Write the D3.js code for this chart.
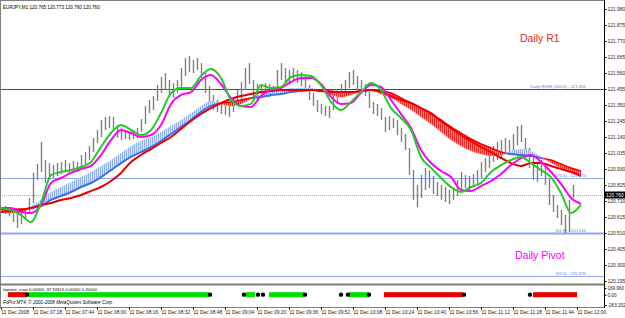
<!DOCTYPE html>
<html>
<head>
<meta charset="utf-8">
<script src="https://cdn.jsdelivr.net/npm/d3@7"></script>
<style>
  body { margin: 0; background: #fff; }
  text { font-family: "Liberation Sans", Arial, sans-serif; }
</style>
</head>
<body>
<script>
// EURJPY M1, 11 Dec 2008, minutes counted from 07:12
const priceTicks = [121.980,121.875,121.770,121.665,121.560,121.455,121.350,121.245,121.140,121.035,120.930,120.825,120.720,120.615,120.510,120.405,120.300,120.195];
const timeTicks = [0,16,32,48,64,80,96,112,128,144,160,176,192,208,224,240,256,272,288];
const timeLabels = ["11 Dec 2008","11 Dec 07:28","11 Dec 07:44","11 Dec 08:00","11 Dec 08:16","11 Dec 08:32","11 Dec 08:48","11 Dec 09:04","11 Dec 09:20","11 Dec 09:36","11 Dec 09:52","11 Dec 10:08","11 Dec 10:24","11 Dec 10:40","11 Dec 10:56","11 Dec 11:12","11 Dec 11:28","11 Dec 11:44","11 Dec 12:00"];

// bars, one every 2 minutes
const barHigh = [120.681,120.687,120.674,120.661,120.635,120.641,120.674,120.740,120.904,120.963,
  121.107,120.989,120.969,120.956,120.969,120.976,120.989,120.969,120.982,120.976,
  121.022,121.041,121.081,121.133,121.186,121.252,121.271,121.278,121.271,121.219,
  121.199,121.179,121.173,121.186,121.199,121.258,121.343,121.383,121.409,121.481,
  121.534,121.560,121.514,121.494,121.514,121.593,121.658,121.672,121.645,121.658,
  121.626,121.566,121.475,121.416,121.383,121.370,121.363,121.357,121.396,121.448,
  121.501,121.593,121.626,121.514,121.488,121.481,121.494,121.488,121.475,121.580,
  121.626,121.593,121.580,121.593,121.580,121.566,121.540,121.481,121.429,121.383,
  121.357,121.343,121.343,121.409,121.448,121.488,121.514,121.566,121.580,121.540,
  121.514,121.488,121.435,121.370,121.357,121.330,121.271,121.278,121.265,121.252,
  121.199,121.160,121.068,120.923,120.825,120.891,120.937,120.923,120.884,120.845,
  120.825,120.812,120.792,120.805,120.858,120.910,120.891,120.884,120.897,120.923,
  120.976,121.002,121.055,121.081,121.107,121.120,121.133,121.120,121.160,121.212,
  121.219,121.133,121.068,121.002,120.976,120.989,120.956,120.871,120.759,120.694,
  120.661,120.628,120.727,120.825];
const barLow = [120.641,120.635,120.622,120.582,120.543,120.569,120.602,120.648,120.707,120.858,
  120.910,120.838,120.858,120.871,120.884,120.897,120.910,120.904,120.910,120.910,
  120.937,120.963,120.989,121.041,121.101,121.140,121.186,121.199,121.179,121.133,
  121.120,121.127,121.120,121.127,121.133,121.173,121.225,121.297,121.317,121.376,
  121.429,121.448,121.409,121.396,121.429,121.468,121.540,121.566,121.560,121.580,
  121.527,121.429,121.350,121.317,121.304,121.291,121.284,121.271,121.304,121.350,
  121.383,121.448,121.488,121.383,121.383,121.409,121.416,121.402,121.409,121.462,
  121.514,121.501,121.501,121.514,121.494,121.475,121.435,121.383,121.343,121.304,
  121.291,121.278,121.265,121.317,121.357,121.402,121.416,121.462,121.481,121.448,
  121.435,121.409,121.330,121.291,121.278,121.252,121.173,121.186,121.199,121.153,
  121.107,121.055,120.891,120.727,120.681,120.740,120.792,120.805,120.766,120.753,
  120.727,120.713,120.700,120.727,120.753,120.792,120.805,120.792,120.818,120.832,
  120.871,120.910,120.937,120.976,120.989,121.002,121.041,121.022,121.055,121.087,
  121.107,120.989,120.937,120.858,120.845,120.884,120.825,120.694,120.648,120.608,
  120.562,120.510,120.517,120.740];

// moving averages, one value every 5 minutes
const maGreen = [120.674,120.661,120.628,120.582,120.707,120.890,120.910,120.923,120.943,120.976,
  121.075,121.166,121.219,121.186,121.153,121.186,121.297,121.428,121.461,121.461,
  121.541,121.586,121.527,121.383,121.344,121.357,121.481,121.461,121.468,121.534,
  121.547,121.541,121.481,121.370,121.317,121.370,121.435,121.494,121.448,121.330,
  121.265,121.186,121.009,120.937,120.871,120.812,120.779,120.812,120.838,120.910,
  120.956,120.989,121.009,120.969,120.923,120.877,120.772,120.641,120.694];
const maMagenta = [120.674,120.674,120.648,120.641,120.694,120.838,120.871,120.904,120.930,120.950,
  121.022,121.120,121.186,121.166,121.140,121.153,121.219,121.357,121.416,121.435,
  121.514,121.547,121.488,121.396,121.344,121.337,121.409,121.448,121.461,121.501,
  121.527,121.527,121.488,121.402,121.357,121.363,121.429,121.481,121.468,121.383,
  121.291,121.199,121.055,120.969,120.917,120.877,120.792,120.786,120.818,120.851,
  120.897,120.956,121.002,121.022,120.976,120.910,120.832,120.740,120.700];
const maRed = [120.648,120.654,120.661,120.674,120.694,120.707,120.727,120.740,120.759,120.786,
  120.812,120.851,120.904,120.976,121.022,121.061,121.101,121.140,121.192,121.245,
  121.291,121.330,121.363,121.389,121.409,121.422,121.435,121.442,121.448,121.448,
  121.448,121.448,121.442,121.435,121.435,121.435,121.442,121.448,121.435,121.409,
  121.383,121.363,121.330,121.297,121.245,121.199,121.153,121.113,121.074,121.041,
  121.002,120.969,120.950,120.969,120.969,120.950,120.930,120.910,120.884];
const ribbonFast = [120.648,120.641,120.641,120.687,120.727,120.779,120.812,120.845,120.877,120.910,
  120.950,120.989,121.035,121.081,121.114,121.140,121.173,121.212,121.252,121.297,
  121.344,121.376,121.357,121.344,121.357,121.389,121.422,121.435,121.448,121.461,
  121.461,121.461,121.442,121.416,121.402,121.416,121.435,121.442,121.422,121.396,
  121.357,121.317,121.271,121.225,121.173,121.120,121.081,121.048,121.028,121.015,
  121.022,121.048,121.061,121.048,121.009,120.969,120.937,120.910,120.884];
const ribbonSlow = [120.667,120.667,120.667,120.674,120.687,120.727,120.753,120.779,120.812,120.838,
  120.877,120.923,120.969,121.009,121.041,121.074,121.114,121.160,121.206,121.252,
  121.304,121.344,121.363,121.370,121.383,121.396,121.402,121.416,121.422,121.435,
  121.442,121.448,121.448,121.442,121.435,121.435,121.442,121.448,121.442,121.429,
  121.396,121.363,121.330,121.291,121.252,121.206,121.166,121.127,121.094,121.068,
  121.041,121.028,121.022,121.015,121.002,120.989,120.963,120.937,120.917];

const levelPrices = [121.455, 120.874, 120.510, 120.225];
const levelLabels = ["Daily HIGH (100.0) - 121.455", "(76.4) - 120.874", "(61.8) - 120.510", "(50.0) - 120.225"];
const bidPrice = 120.760;

// fxprime_vsae signal panel
const sigStart = [3.5, 13.5, 122.5, 134, 174, 191.5, 266];
const sigEnd   = [13, 104, 127, 151.5, 184, 231, 288];
const sigColor = ["red", "green", "green", "green", "green", "red", "red"];
const sigDots  = [13, 104.5, 121.5, 128.5, 131, 152, 170, 173.5, 184, 231.5, 264.5];
const indTicks = [169.960, 0, -263.152];
const indTickLabels = ["169.960", "0.00", "-263.152"];

const W = 625, H = 318;
const svg = d3.select("body").append("svg").attr("width", W).attr("height", H);

const x = d3.scaleLinear().domain([0, 301.5]).range([1, 604]);
const y = d3.scaleLinear().domain([121.980, 120.195]).range([9, 281]);
const yi = d3.scaleLinear().domain([169.960, -263.152]).range([288, 305]);

const defs = svg.append("defs");
function hatch(id, c1, c2) {
  const p = defs.append("pattern").attr("id", id).attr("patternUnits", "userSpaceOnUse")
    .attr("width", 2).attr("height", 2);
  p.append("rect").attr("width", 1).attr("height", 2).attr("fill", c1);
  p.append("rect").attr("x", 1).attr("width", 1).attr("height", 2).attr("fill", c2);
}
hatch("hBlue", "#8fb0f4", "#dfe8fb");
hatch("hRed", "#ff2020", "#ff9a9a");
defs.append("clipPath").attr("id", "plot").append("rect")
  .attr("x", 1).attr("y", 3).attr("width", 603).attr("height", 281);

// frame
svg.append("rect").attr("x", 0.5).attr("y", 0.5).attr("width", 604).attr("height", 307)
  .attr("fill", "none").attr("stroke", "#808080");
svg.append("line").attr("x1", 0).attr("x2", 605).attr("y1", 284.5).attr("y2", 284.5).attr("stroke", "#808080").attr("stroke-width", 2);

const plot = svg.append("g").attr("clip-path", "url(#plot)");

// level lines
plot.selectAll(".lvl").data(levelPrices).enter().append("line")
  .attr("x1", 0).attr("x2", 604)
  .attr("y1", d => Math.round(y(d)) + 0.5).attr("y2", d => Math.round(y(d)) + 0.5)
  .attr("stroke", (d, i) => i === 0 ? "#4a4a70" : "#8ea8ee")
  .attr("stroke-width", (d, i) => i === 2 ? 2 : 1);
plot.append("line").attr("x1", 0).attr("x2", 604)
  .attr("y1", Math.round(y(bidPrice)) + 0.5).attr("y2", Math.round(y(bidPrice)) + 0.5)
  .attr("stroke", "#b0b0b0").attr("stroke-dasharray", "1,1");

// price bars
plot.selectAll(".bar").data(barHigh).enter().append("line")
  .attr("x1", (d, i) => Math.round(x(i * 2)) + 0.5)
  .attr("x2", (d, i) => Math.round(x(i * 2)) + 0.5)
  .attr("y1", d => y(d)).attr("y2", (d, i) => y(barLow[i]))
  .attr("stroke", "#808080").attr("stroke-width", 1.4);

// ribbon
const maT = maGreen.map((d, i) => i * 5);
const fastPts = ribbonFast.map((d, i) => [x(maT[i]), y(d)]);
const slowPts = ribbonSlow.map((d, i) => [x(maT[i]), y(d)]);
const curve = d3.curveMonotoneX;
const below = d3.area().x(d => d[0]).y0(300).y1(d => d[1]).curve(curve);
const above = d3.area().x(d => d[0]).y0(0).y1(d => d[1]).curve(curve);
defs.append("clipPath").attr("id", "belowFast").append("path").attr("d", below(fastPts));
defs.append("clipPath").attr("id", "aboveFast").append("path").attr("d", above(fastPts));
defs.append("clipPath").attr("id", "aboveSlow").append("path").attr("d", above(slowPts));
plot.append("g").attr("clip-path", "url(#aboveSlow)").append("path")
  .attr("d", below(fastPts)).attr("fill", "url(#hBlue)");
plot.append("g").attr("clip-path", "url(#aboveFast)").append("path")
  .attr("d", below(slowPts)).attr("fill", "url(#hRed)");

const line = d3.line().x(d => d[0]).y(d => d[1]).curve(curve);
plot.append("g").attr("clip-path", "url(#belowFast)").append("path")
  .attr("d", line(slowPts)).attr("fill", "none").attr("stroke", "#3f6fe0").attr("stroke-width", 2);
plot.append("g").attr("clip-path", "url(#aboveFast)").append("path")
  .attr("d", line(slowPts)).attr("fill", "none").attr("stroke", "#f00000").attr("stroke-width", 1.5);

function ma(vals, color, w) {
  plot.append("path").attr("d", line(vals.map((d, i) => [x(maT[i]), y(d)])))
    .attr("fill", "none").attr("stroke", color).attr("stroke-width", w);
}
ma(maRed, "#e80000", 2);
ma(maMagenta, "#ff00ff", 2);
ma(maGreen, "#22cc22", 2);

// level labels
svg.selectAll(".lvlTxt").data(levelPrices).enter().append("text")
  .attr("x", 586).attr("y", d => Math.round(y(d)) - 1.5)
  .attr("text-anchor", "end").attr("font-size", 4.3).attr("fill", "#5a78e0")
  .text((d, i) => levelLabels[i]);

svg.append("text").attr("x", 520).attr("y", 42).attr("font-size", 10.5).attr("fill", "#e02828").text("Daily R1");
svg.append("text").attr("x", 515).attr("y", 259).attr("font-size", 10.5).attr("fill", "#ff00ff").text("Daily Pivot");

svg.append("text").attr("x", 3).attr("y", 9).attr("font-size", 4.6).attr("fill", "#000")
  .text("EURJPY,M1  120.765 120.773 120.760 120.760");

// price axis
const ay = svg.append("g").attr("transform", "translate(604.5,0)")
  .call(d3.axisRight(y).tickValues(priceTicks).tickFormat(d3.format(".3f")).tickSize(2).tickPadding(1));
ay.select(".domain").attr("d", "M0,0V308").attr("stroke", "#000");
ay.selectAll("text").attr("font-size", 4.9).attr("fill", "#222");
svg.append("rect").attr("x", 605).attr("y", Math.round(y(bidPrice)) - 3.5).attr("width", 20).attr("height", 7).attr("fill", "#000");
svg.append("text").attr("x", 606).attr("y", Math.round(y(bidPrice)) + 2).attr("font-size", 4.9).attr("fill", "#fff").text("120.760");

// indicator panel
svg.append("text").attr("x", 3).attr("y", 291).attr("font-size", 4.2).attr("fill", "#000")
  .text("fxprime_vsae 0.00000 -97.92615 0.00000 0.20000");
svg.selectAll(".sig").data(sigStart).enter().append("rect")
  .attr("x", d => x(d)).attr("width", (d, i) => x(sigEnd[i]) - x(d))
  .attr("y", yi(0) - 2.5).attr("height", 5)
  .attr("fill", (d, i) => sigColor[i] === "red" ? "#e80000" : "#00e000");
svg.selectAll(".dot").data(sigDots).enter().append("circle")
  .attr("cx", d => x(d)).attr("cy", yi(0)).attr("r", 2.2).attr("fill", "#000");
svg.append("text").attr("x", 3).attr("y", 304).attr("font-size", 4.6).attr("font-style", "italic").attr("fill", "#000")
  .text("FxPro MT4, © 2001-2008 MetaQuotes Software Corp.");
const ai = svg.append("g").attr("transform", "translate(604.5,0)")
  .call(d3.axisRight(yi).tickValues(indTicks).tickFormat((d, i) => indTickLabels[i]).tickSize(2).tickPadding(1));
ai.select(".domain").remove();
ai.selectAll("text").attr("font-size", 4.6).attr("fill", "#222");

// time axis
const ax = svg.append("g").attr("transform", "translate(0,307.5)")
  .call(d3.axisBottom(x).tickValues(timeTicks).tickFormat((d, i) => timeLabels[i]).tickSize(2).tickPadding(1));
ax.select(".domain").remove();
ax.selectAll("text").attr("font-size", 4.9).attr("text-anchor", "start").attr("fill", "#222");
</script>
</body>
</html>
